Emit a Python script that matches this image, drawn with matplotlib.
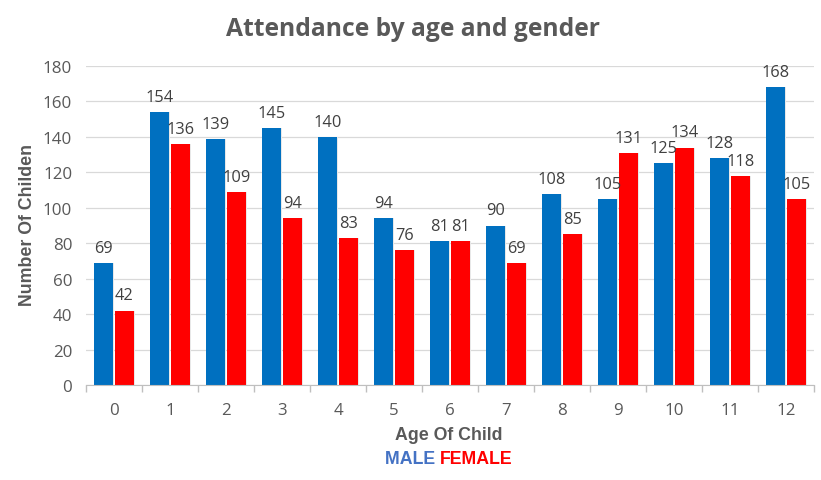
import matplotlib
matplotlib.use("Agg")
import matplotlib.pyplot as plt
import numpy as np

ages = ["0", "1", "2", "3", "4", "5", "6", "7", "8", "9", "10", "11", "12"]
male = [69, 154, 139, 145, 140, 94, 81, 90, 108, 105, 125, 128, 168]
female = [42, 136, 109, 94, 83, 76, 81, 69, 85, 131, 134, 118, 105]
yticks = [0, 20, 40, 60, 80, 100, 120, 140, 160, 180]

BLUE = "#0070C0"
RED = "#FF0000"
GRAY = "#595959"

fig = plt.figure(figsize=(8.21, 4.81), dpi=100)
ax = fig.add_axes([0.1048, 0.1975, 0.8867, 0.6632])

x = np.arange(len(ages))
w = 0.34
off = 0.185
# faint shadows
ax.bar(x - off + 0.02, male, w, color="#e8e8e8", zorder=2)
ax.bar(x + off + 0.02, female, w, color="#e8e8e8", zorder=2)
ax.bar(x - off, male, w, color=BLUE, zorder=3)
ax.bar(x + off, female, w, color=RED, zorder=3)

for xi, v in zip(x - off, male):
    ax.text(xi, v + 4, str(v), ha="center", va="bottom", fontsize=11.8,
            color="#404040", family="Open Sans")
for xi, v in zip(x + off, female):
    ax.text(xi, v + 4, str(v), ha="center", va="bottom", fontsize=11.8,
            color="#404040", family="Open Sans")

ax.set_xlim(-0.5, len(ages) - 0.5)
ax.set_ylim(0, 180)
ax.set_yticks(yticks)
ax.set_yticklabels([str(t) for t in yticks], fontsize=12.2, color=GRAY, family="Open Sans")
ax.set_xticks(x)
ax.set_xticklabels(ages, fontsize=12.2, color=GRAY, family="Open Sans")
ax.set_xticks(np.arange(-0.5, len(ages), 1), minor=True)
ax.tick_params(axis="x", which="major", length=0, pad=12)
ax.tick_params(axis="x", which="minor", length=5, color="#BFBFBF", width=1)
ax.tick_params(axis="y", length=0, pad=10)

ax.grid(axis="y", color="#D9D9D9", linewidth=0.9, zorder=0)
for s in ["top", "right", "left"]:
    ax.spines[s].set_visible(False)
ax.spines["bottom"].set_color("#BFBFBF")
ax.spines["bottom"].set_zorder(4)

fig.text(0.503, 0.938, "Attendance by age and gender", ha="center", va="center",
         fontsize=17.7, fontweight="bold", color=GRAY, family="Open Sans")
fig.text(0.034, 0.532, "Number Of Childen", rotation=90, ha="center", va="center",
         fontsize=12.8, fontweight="bold", color=GRAY, family="Liberation Sans")
fig.text(0.547, 0.095, "Age Of Child", ha="center", va="center",
         fontsize=12.8, fontweight="bold", color=GRAY, family="Liberation Sans")
fig.text(0.536, 0.045, "MALE ", ha="right", va="center",
         fontsize=12.8, fontweight="bold", color="#4472C4", family="Liberation Sans")
fig.text(0.536, 0.045, "FEMALE", ha="left", va="center",
         fontsize=12.8, fontweight="bold", color=RED, family="Liberation Sans")

fig.savefig("out.png", dpi=100, facecolor="white")
